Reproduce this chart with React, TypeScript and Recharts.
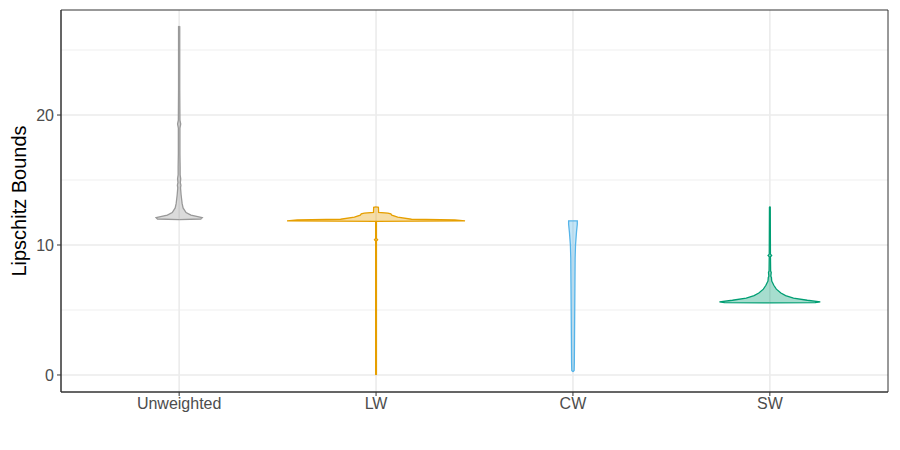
import React from "react";
import {
  ComposedChart,
  Area,
  XAxis,
  YAxis,
  CartesianGrid,
  ReferenceArea,
} from "recharts";

const categories = ["Unweighted", "LW", "CW", "SW"];
const colors = ["#999999", "#E69F00", "#56B4E9", "#009E73"];

// violin outlines: y values and half widths (x units)
const unweightedY = [11.95, 12.0, 12.1, 12.3, 12.5, 12.85, 13.2, 13.85, 14.4, 14.6, 14.8, 15.1, 15.4, 16.0, 17.0, 19.0, 19.3, 19.6, 22.0, 26.8, 26.82];
const unweightedW = [0.0, 0.11, 0.117, 0.06, 0.035, 0.02, 0.015, 0.01, 0.007, 0.009, 0.006, 0.008, 0.005, 0.005, 0.004, 0.004, 0.008, 0.004, 0.003, 0.003, 0.0];

const lwY = [0.0, 0.05, 10.3, 10.4, 10.5, 11.82, 11.86, 11.93, 11.98, 12.15, 12.3, 12.4, 12.46, 12.5, 12.9, 12.93];
const lwW = [0.0, 0.002, 0.002, 0.008, 0.002, 0.002, 0.452, 0.4, 0.18, 0.11, 0.08, 0.075, 0.06, 0.013, 0.012, 0.0];

const cwY = [0.25, 0.35, 1, 3, 5, 7, 9, 10, 11, 11.6, 11.85, 11.86];
const cwW = [0.0, 0.006, 0.007, 0.008, 0.009, 0.01, 0.011, 0.013, 0.018, 0.022, 0.022, 0.0];

const swY = [5.55, 5.56, 5.62, 5.75, 5.92, 6.1, 6.3, 6.6, 6.9, 7.1, 7.2, 7.3, 7.5, 7.6, 7.9, 8.0, 9.1, 9.2, 9.3, 12.9, 12.95];
const swW = [0.0, 0.23, 0.256, 0.19, 0.12, 0.08, 0.056, 0.033, 0.02, 0.014, 0.01, 0.009, 0.008, 0.005, 0.007, 0.004, 0.003, 0.009, 0.003, 0.002, 0.0];

const violinY = [unweightedY, lwY, cwY, swY];
const violinW = [unweightedW, lwW, cwW, swW];

const yTicks = [0, 10, 20];
const yMinor = [5, 15, 25];
const xTicks = [1, 2, 3, 4];

const series = categories.map((name, i) => ({
  name,
  color: colors[i],
  data: violinY[i].map((y, j) => ({
    y,
    range: [i + 1 - violinW[i][j], i + 1 + violinW[i][j]],
  })),
}));

const YTitle = (props: any) => {
  const { viewBox } = props;
  const x = viewBox.x + 19;
  const y = viewBox.y + viewBox.height / 2;
  return (
    <text
      x={x}
      y={y}
      transform={`rotate(-90, ${x}, ${y})`}
      textAnchor="middle"
      dominantBaseline="central"
      fontSize={20}
      fill="#000"
    >
      Lipschitz Bounds
    </text>
  );
};

export default function App() {
  return (
    <div
      style={{
        position: "absolute",
        left: 0,
        top: 0,
        width: 900,
        height: 450,
        background: "#fff",
        fontFamily: "'Liberation Sans', Arial, sans-serif",
      }}
    >
      <ComposedChart
        layout="vertical"
        width={900}
        height={450}
        margin={{ top: 10, right: 12, bottom: 0, left: 0 }}
      >
        <CartesianGrid
          horizontalValues={yMinor}
          vertical={false}
          stroke="#EBEBEB"
          strokeWidth={0.8}
        />
        <CartesianGrid
          horizontalValues={yTicks}
          verticalValues={xTicks}
          stroke="#EBEBEB"
          strokeWidth={1.6}
        />
        <XAxis
          type="number"
          domain={[0.4, 4.6]}
          ticks={xTicks}
          interval={0}
          allowDataOverflow
          height={58}
          tickFormatter={(v: number) => categories[v - 1]}
          tick={{ fill: "#4D4D4D", fontSize: 16 }}
          tickSize={4}
          tickMargin={2}
          axisLine={{ stroke: "#333333" }}
          tickLine={{ stroke: "#333333" }}
        />
        <YAxis
          type="number"
          dataKey="y"
          reversed
          domain={[-1.31, 28.08]}
          ticks={yTicks}
          interval={0}
          allowDataOverflow
          width={61}
          tick={{ fill: "#4D4D4D", fontSize: 16 }}
          tickSize={4}
          tickMargin={3}
          axisLine={{ stroke: "#333333" }}
          tickLine={{ stroke: "#333333" }}
          label={{ content: YTitle }}
        />
        {series.map((s) => (
          <Area
            key={s.name}
            data={s.data}
            dataKey="range"
            type="linear"
            stroke={s.color}
            strokeWidth={1.3}
            fill={s.color}
            fillOpacity={0.35}
            dot={false}
            activeDot={false}
            isAnimationActive={false}
          />
        ))}
        <ReferenceArea
          x1={0.4}
          x2={4.6}
          y1={-1.31}
          y2={28.08}
          fill="none"
          stroke="#333333"
          strokeWidth={1}
          ifOverflow="visible"
        />
      </ComposedChart>
    </div>
  );
}
